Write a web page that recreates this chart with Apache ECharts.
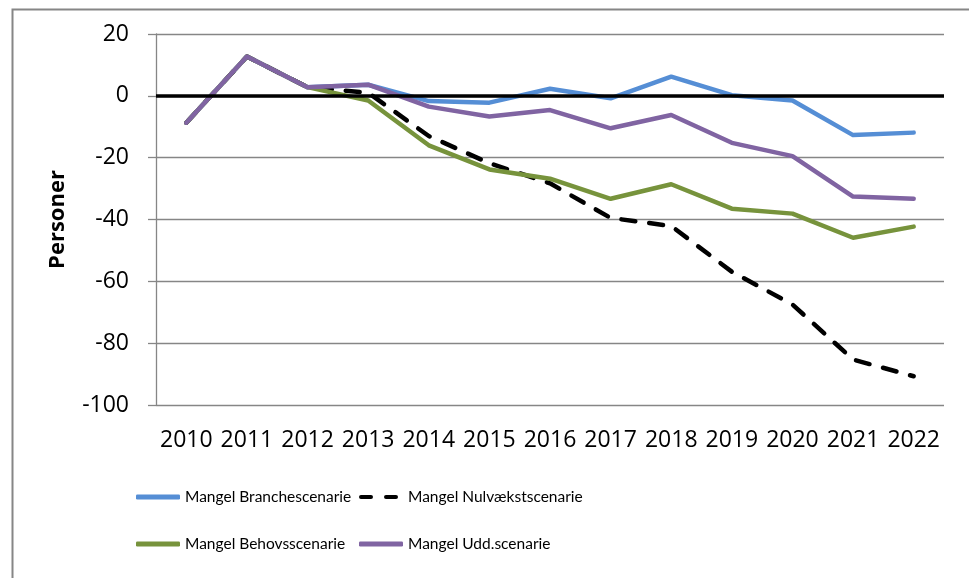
<!DOCTYPE html>
<html>
<head>
<meta charset="utf-8">
<script src="https://cdn.jsdelivr.net/npm/echarts@6/dist/echarts.min.js"></script>
<style>
html,body{margin:0;padding:0;background:#fff;}
#c{width:969px;height:578px;}
</style>
</head>
<body>
<div id="c"></div>
<script>
var years = ['2010','2011','2012','2013','2014','2015','2016','2017','2018','2019','2020','2021','2022'];
var branche = [-8.7, 12.7, 2.8, 3.6, -1.7, -2.2, 2.3, -0.8, 6.2, 0.2, -1.5, -12.7, -11.9];
var nulvaekst = [-8.7, 12.7, 2.8, 1.0, -13.0, -21.8, -28.3, -39.5, -42.1, -56.9, -67.5, -85.3, -90.7];
var behovs = [-8.7, 12.7, 2.8, -1.5, -16.0, -23.8, -26.8, -33.3, -28.6, -36.5, -38.1, -45.9, -42.3];
var udd = [-8.7, 12.7, 2.8, 3.6, -3.5, -6.7, -4.6, -10.5, -6.2, -15.2, -19.5, -32.6, -33.3];
var names = ['Mangel Branchescenarie','Mangel Nulvækstscenarie','Mangel Behovsscenarie','Mangel Udd.scenarie'];

var chart = echarts.init(document.getElementById('c'), null, {renderer:'canvas'});
var tickFont = "'Open Sans', 'Liberation Sans', sans-serif";
var legFont = "Lato, 'Liberation Sans', sans-serif";
var grey = '#868686';
var dashIcon = 'path://M2,0 H12 A2,2 0 0 1 12,4 H2 A2,2 0 0 1 2,0 Z M27,0 H37 A2,2 0 0 1 37,4 H27 A2,2 0 0 1 27,0 Z';
function leg(name, left, top, icon, w, pad){
  return {data:[name], left:left, top:top, itemWidth:w, itemHeight:5, icon:icon,
    itemStyle:{borderWidth:0},
    textStyle:{fontFamily:legFont, fontSize:15.5, color:'#000', padding:[0,0,0,pad]}, selectedMode:false};
}
function line(name, data, color, dash){
  return {name:name, type:'line', data:data, symbol:'none', smooth:false,
    lineStyle:{color:color, width:4.5, type: dash ? [14,14] : 'solid', cap:'round', join:'round'},
    itemStyle:{color:color}, emphasis:{disabled:true}, animation:false};
}
var s0 = line(names[0], branche, '#558ED5', false);
s0.markLine = {silent:true, symbol:['none','none'], label:{show:false},
  lineStyle:{color:'#000', width:3.5, type:'solid'}, data:[{yAxis:0}], animation:false};
var option = {
  animation:false,
  backgroundColor:'#fff',
  grid:{left:156, right:25, top:34, bottom:173},
  legend:[leg(names[0],131,484,'roundRect',44,0), leg(names[1],354,484,dashIcon,39,5),
          leg(names[2],131,531,'roundRect',44,0), leg(names[3],354,531,'roundRect',44,0)],
  xAxis:{type:'category', data:years, boundaryGap:true,
    axisLine:{show:false}, axisTick:{show:false},
    axisLabel:{fontFamily:tickFont, fontSize:23, color:'#000', margin:24, interval:0}},
  yAxis:{type:'value', min:-100, max:20, interval:20,
    name:'Personer', nameLocation:'middle', nameGap:87, nameRotate:90,
    nameTextStyle:{fontFamily:tickFont, fontWeight:'bold', fontSize:22, color:'#000'},
    axisLine:{show:true, lineStyle:{color:grey, width:1.3}},
    axisTick:{show:true, inside:false, length:8, lineStyle:{color:grey, width:1.3}},
    splitLine:{show:true, lineStyle:{color:grey, width:1.3}},
    axisLabel:{fontFamily:tickFont, fontSize:23, color:'#000', margin:27}},
  graphic:[{type:'rect', left:10, top:7, silent:true,
    shape:{x:0,y:0,width:1000,height:1000},
    style:{fill:'none', stroke:grey, lineWidth:2}}],
  series:[s0,
    line(names[1], nulvaekst, '#000000', true),
    line(names[2], behovs, '#77933C', false),
    line(names[3], udd, '#8064A2', false)]
};
chart.setOption(option);
</script>
</body>
</html>
